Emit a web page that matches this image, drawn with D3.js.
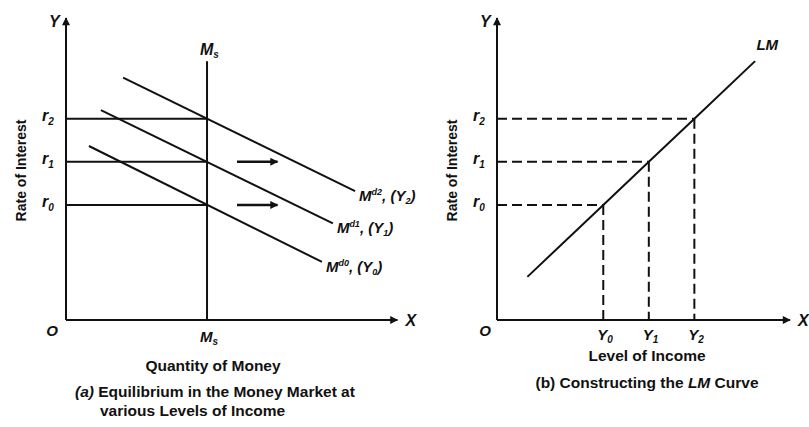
<!DOCTYPE html>
<html>
<head>
<meta charset="utf-8">
<script src="https://cdn.jsdelivr.net/npm/d3@7"></script>
<style>
  body { margin: 0; background: #fff; }
  text { font-family: "Liberation Sans", Arial, sans-serif; fill: #111; }
</style>
</head>
<body>
<svg id="chart"></svg>
<script>
// interest rate levels r0, r1, r2 (shared by both panels)
var rateLabels = ['0', '1', '2'];
var rates = [4, 5.5, 7];

// panel (a): money supply and the three demand curves
var moneySupply = 4;
var demandNames = ['d0', 'd1', 'd2'];
var demandLines = [
  [[0.65, 6.05], [7.26, 2.02]],
  [[0.99, 7.3], [7.57, 3.36]],
  [[1.62, 8.43], [8.2, 4.48]]
];
var shiftArrows = [[4.85, 6.0, 5.5], [4.85, 6.0, 4]]; // x1, x2, rate

// panel (b): income levels and the LM curve
var incomes = [7, 10, 13];
var lmLine = [[2, 1.5], [7, 4], [10, 5.5], [13, 7], [17, 9]];

var svg = d3.select("#chart")
  .attr("width", 809)
  .attr("height", 427);

svg.append("defs").append("marker")
  .attr("id", "arrow")
  .attr("viewBox", "0 0 10 10")
  .attr("refX", 9).attr("refY", 5)
  .attr("markerWidth", 11).attr("markerHeight", 8)
  .attr("markerUnits", "userSpaceOnUse")
  .attr("orient", "auto")
  .append("path")
  .attr("d", "M0,0 L10,5 L0,10 Z")
  .attr("fill", "#111");

// shared y scale
var y = d3.scaleLinear().domain([0, 10.5]).range([320, 18]);

var xa = d3.scaleLinear().domain([0, 9.4]).range([66, 397.4]);
var xb = d3.scaleLinear().domain([0, 19.3]).range([497, 790]);

function drawAxes(x, xMax, oX) {
  svg.append("line")
    .attr("x1", x(0)).attr("y1", y(0))
    .attr("x2", x(0)).attr("y2", y(10.5))
    .attr("stroke", "#111").attr("stroke-width", 2)
    .attr("marker-end", "url(#arrow)");
  svg.append("line")
    .attr("x1", x(0)).attr("y1", y(0))
    .attr("x2", x(xMax)).attr("y2", y(0))
    .attr("stroke", "#111").attr("stroke-width", 2)
    .attr("marker-end", "url(#arrow)");
  svg.append("text")
    .attr("x", x(0) - 17).attr("y", y(10.5) + 9)
    .attr("font-size", 16).attr("font-weight", "bold").attr("font-style", "italic")
    .text("Y");
  svg.append("text")
    .attr("x", x(xMax) + 8).attr("y", y(0) + 6)
    .attr("font-size", 16).attr("font-weight", "bold").attr("font-style", "italic")
    .text("X");
  svg.append("text")
    .attr("x", oX).attr("y", y(0) + 16)
    .attr("text-anchor", "middle")
    .attr("font-size", 15).attr("font-weight", "bold").attr("font-style", "italic")
    .text("O");
  svg.append("text")
    .attr("transform", "translate(" + (x(0) - 40) + "," + y(5.2) + ") rotate(-90)")
    .attr("text-anchor", "middle")
    .attr("font-size", 14).attr("font-weight", "bold")
    .text("Rate of Interest");

  // r labels
  var r = svg.append("g").selectAll("text")
    .data(rates)
    .enter()
    .append("text")
    .attr("x", x(0) - 18)
    .attr("y", function (d) { return y(d) + 2; })
    .attr("text-anchor", "middle")
    .attr("font-size", 16).attr("font-style", "italic").attr("font-weight", "bold");
  r.append("tspan").text("r");
  r.append("tspan")
    .attr("font-size", 10).attr("dy", 4)
    .text(function (d, i) { return rateLabels[i]; });
}

// ---------- panel (a) ----------
drawAxes(xa, 9.4, 52);

svg.append("g").selectAll("line")
  .data(rates)
  .enter()
  .append("line")
  .attr("x1", xa(0)).attr("x2", xa(moneySupply))
  .attr("y1", function (d) { return y(d); })
  .attr("y2", function (d) { return y(d); })
  .attr("stroke", "#111").attr("stroke-width", 2);

svg.append("line")
  .attr("x1", xa(moneySupply)).attr("x2", xa(moneySupply))
  .attr("y1", y(0)).attr("y2", y(9))
  .attr("stroke", "#111").attr("stroke-width", 2);

var msTop = svg.append("text")
  .attr("x", xa(moneySupply) - 7).attr("y", y(9) - 6)
  .attr("font-size", 16).attr("font-style", "italic").attr("font-weight", "bold");
msTop.append("tspan").text("M");
msTop.append("tspan").attr("font-size", 10).attr("dy", 3).text("s");

var msBottom = svg.append("text")
  .attr("x", xa(moneySupply) - 7).attr("y", y(0) + 22)
  .attr("font-size", 15).attr("font-style", "italic").attr("font-weight", "bold");
msBottom.append("tspan").text("M");
msBottom.append("tspan").attr("font-size", 10).attr("dy", 3).text("s");

var line = d3.line()
  .x(function (d) { return xa(d[0]); })
  .y(function (d) { return y(d[1]); });

svg.append("g").selectAll("path")
  .data(demandLines)
  .enter()
  .append("path")
  .attr("d", line)
  .attr("fill", "none")
  .attr("stroke", "#111").attr("stroke-width", 2);

var dl = svg.append("g").selectAll("text")
  .data(demandLines)
  .enter()
  .append("text")
  .attr("x", function (d) { return xa(d[1][0]) + 4; })
  .attr("y", function (d) { return y(d[1][1]) + 10; })
  .attr("font-size", 15).attr("font-style", "italic").attr("font-weight", "bold");
dl.append("tspan").text("M");
dl.append("tspan").attr("font-size", 9).attr("dy", -6)
  .text(function (d, i) { return demandNames[i]; });
dl.append("tspan").attr("dy", 6).text(", (Y");
dl.append("tspan").attr("font-size", 9).attr("dy", 3)
  .text(function (d, i) { return rateLabels[i]; });
dl.append("tspan").attr("dy", -3).text(")");

svg.append("g").selectAll("line")
  .data(shiftArrows)
  .enter()
  .append("line")
  .attr("x1", function (d) { return xa(d[0]); })
  .attr("x2", function (d) { return xa(d[1]); })
  .attr("y1", function (d) { return y(d[2]); })
  .attr("y2", function (d) { return y(d[2]); })
  .attr("stroke", "#111").attr("stroke-width", 2.5)
  .attr("marker-end", "url(#arrow)");

svg.append("text")
  .attr("x", 213).attr("y", 371)
  .attr("text-anchor", "middle")
  .attr("font-size", 15.5).attr("font-weight", "bold")
  .text("Quantity of Money");

var capA = svg.append("text")
  .attr("x", 75).attr("y", 397)
  .attr("font-size", 15.5).attr("font-weight", "bold");
capA.append("tspan").attr("font-style", "italic").text("(a)");
capA.append("tspan").text(" Equilibrium in the Money Market at");
svg.append("text")
  .attr("x", 100).attr("y", 416)
  .attr("font-size", 15.5).attr("font-weight", "bold")
  .text("various Levels of Income");

// ---------- panel (b) ----------
drawAxes(xb, 19.3, 485);

var lineB = d3.line()
  .x(function (d) { return xb(d[0]); })
  .y(function (d) { return y(d[1]); });

svg.append("g").selectAll("line.h")
  .data(incomes)
  .enter()
  .append("line")
  .attr("x1", xb(0))
  .attr("x2", function (d) { return xb(d); })
  .attr("y1", function (d, i) { return y(rates[i]); })
  .attr("y2", function (d, i) { return y(rates[i]); })
  .attr("stroke", "#111").attr("stroke-width", 2)
  .attr("stroke-dasharray", "10,5");

svg.append("g").selectAll("line.v")
  .data(incomes)
  .enter()
  .append("line")
  .attr("x1", function (d) { return xb(d); })
  .attr("x2", function (d) { return xb(d); })
  .attr("y1", function (d, i) { return y(rates[i]); })
  .attr("y2", y(0))
  .attr("stroke", "#111").attr("stroke-width", 2)
  .attr("stroke-dasharray", "10,5");

svg.append("path")
  .datum(lmLine)
  .attr("d", lineB)
  .attr("fill", "none")
  .attr("stroke", "#111").attr("stroke-width", 2);

svg.append("text")
  .attr("x", xb(17.8)).attr("y", 50)
  .attr("text-anchor", "middle")
  .attr("font-size", 15).attr("font-weight", "bold").attr("font-style", "italic")
  .text("LM");

var yl = svg.append("g").selectAll("text")
  .data(incomes)
  .enter()
  .append("text")
  .attr("x", function (d) { return xb(d) - 6; })
  .attr("y", y(0) + 20)
  .attr("font-size", 15).attr("font-weight", "bold").attr("font-style", "italic");
yl.append("tspan").text("Y");
yl.append("tspan").attr("font-size", 10).attr("dy", 3)
  .text(function (d, i) { return rateLabels[i]; });

svg.append("text")
  .attr("x", 647).attr("y", 361)
  .attr("text-anchor", "middle")
  .attr("font-size", 15.5).attr("font-weight", "bold")
  .text("Level of  Income");

var capB = svg.append("text")
  .attr("x", 647).attr("y", 388)
  .attr("text-anchor", "middle")
  .attr("font-size", 15.5).attr("font-weight", "bold");
capB.append("tspan").text("(b) Constructing the ");
capB.append("tspan").attr("font-style", "italic").text("LM");
capB.append("tspan").text(" Curve");
</script>
</body>
</html>
